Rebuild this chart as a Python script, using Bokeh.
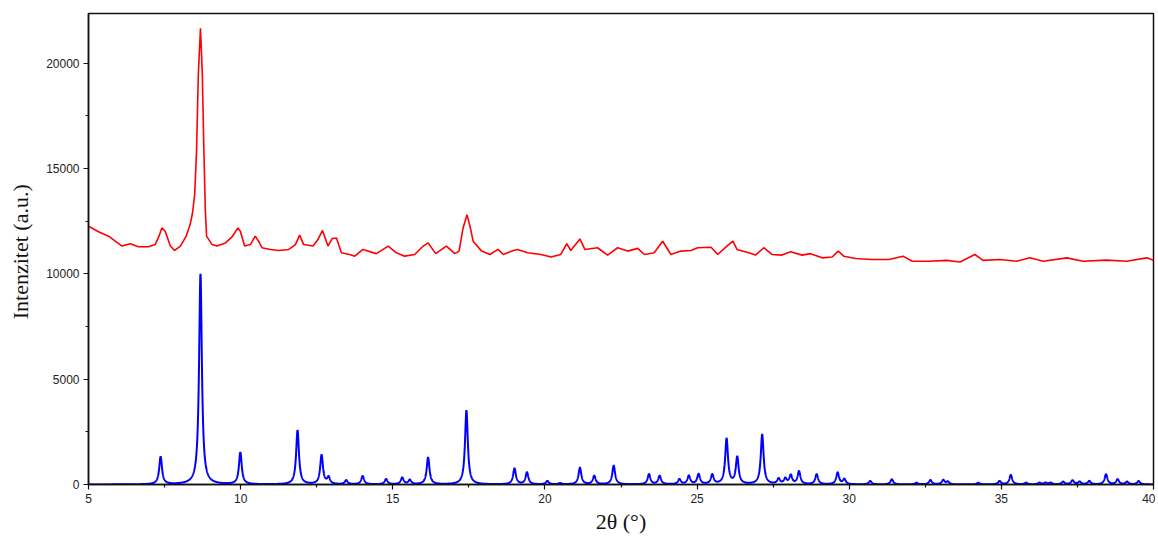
import numpy as np
from bokeh.plotting import figure
from bokeh.models import Range1d, FixedTicker
from bokeh.embed import file_html
from bokeh.resources import INLINE

# ---- calculated (simulated) pattern: peak positions (2theta, deg) and heights ----
blue_pos = [7.37, 8.68, 9.99, 11.87, 12.66, 12.89, 13.47, 14.01, 14.78, 15.31,
            15.56, 16.16, 17.42, 19.00, 19.41, 20.08, 20.50, 21.15, 21.62, 22.26,
            23.42, 23.77, 24.42, 24.73, 25.05, 25.50, 25.97, 26.32, 27.14, 27.68,
            27.90, 28.08, 28.35, 28.93, 29.62, 29.84, 30.69, 31.40, 32.21, 32.67,
            33.09, 33.24, 34.24, 34.94, 35.31, 35.81, 36.25, 36.45, 36.62, 37.03,
            37.34, 37.57, 37.89, 38.44, 38.82, 39.13, 39.51]
blue_height = [1310, 10000, 1510, 2570, 1390, 315, 190, 394, 250, 315,
               205, 1277, 3515, 756, 567, 158, 60, 790, 400, 890,
               480, 400, 240, 400, 480, 450, 2160, 1280, 2370, 256,
               256, 416, 608, 480, 560, 240, 160, 240, 80, 208,
               208, 128, 80, 160, 448, 80, 80, 80, 80, 128,
               192, 128, 160, 480, 240, 128, 160]
blue_hwhm = 0.055

red_x = [5.00, 5.11, 5.33, 5.66, 5.88, 6.10, 6.37, 6.64, 6.97, 7.19,
         7.32, 7.41, 7.52, 7.69, 7.83, 8.02, 8.21, 8.34, 8.42, 8.49,
         8.55, 8.61, 8.68, 8.74, 8.79, 8.84, 8.88, 9.06, 9.22, 9.50,
         9.71, 9.91, 9.99, 10.13, 10.32, 10.48, 10.59, 10.70, 10.98, 11.25,
         11.58, 11.80, 11.94, 12.07, 12.38, 12.54, 12.69, 12.87, 13.01, 13.15,
         13.31, 13.58, 13.75, 14.02, 14.46, 14.85, 15.12, 15.39, 15.72, 16.00,
         16.16, 16.41, 16.76, 17.04, 17.18, 17.31, 17.44, 17.55, 17.64, 17.92,
         18.19, 18.46, 18.63, 18.96, 19.10, 19.43, 19.87, 20.20, 20.52, 20.72,
         20.85, 21.15, 21.31, 21.73, 22.06, 22.39, 22.72, 23.05, 23.27, 23.59,
         23.87, 24.14, 24.47, 24.80, 25.02, 25.46, 25.68, 25.98, 26.18, 26.31,
         26.70, 26.92, 27.19, 27.46, 27.79, 28.07, 28.45, 28.73, 29.11, 29.44,
         29.64, 29.82, 30.21, 30.75, 31.30, 31.77, 32.07, 32.62, 33.20, 33.64,
         34.13, 34.40, 34.95, 35.50, 35.94, 36.38, 37.15, 37.69, 38.46, 39.12,
         39.78, 40.00]
red_y = [12260, 12180, 12000, 11790, 11550, 11320, 11430, 11290, 11290, 11390,
         11800, 12180, 12020, 11320, 11110, 11320, 11790, 12340, 12900, 13760,
         15800, 19500, 21660, 19500, 16000, 13000, 11790, 11390, 11320, 11470,
         11740, 12180, 12020, 11320, 11390, 11790, 11550, 11240, 11160, 11110,
         11160, 11390, 11840, 11390, 11320, 11630, 12060, 11320, 11680, 11700,
         11000, 10920, 10840, 11160, 10960, 11320, 11000, 10840, 10920, 11320,
         11470, 10960, 11320, 10960, 11080, 12180, 12810, 12180, 11550, 11080,
         10920, 11160, 10920, 11110, 11160, 11000, 10920, 10800, 10920, 11430,
         11110, 11660, 11160, 11240, 10890, 11240, 11080, 11210, 10920, 11000,
         11550, 10920, 11080, 11110, 11240, 11260, 10920, 11320, 11550, 11160,
         11000, 10890, 11240, 10920, 10890, 11050, 10890, 10960, 10760, 10800,
         11080, 10840, 10730, 10680, 10680, 10840, 10600, 10600, 10640, 10560,
         10920, 10640, 10680, 10600, 10760, 10600, 10760, 10600, 10650, 10600,
         10760, 10650]

x_ticks = [5, 10, 15, 20, 25, 30, 35, 40]
x_minor = [7.5, 12.5, 17.5, 22.5, 27.5, 32.5, 37.5]
y_ticks = [0, 5000, 10000, 15000, 20000]
y_minor = [2500, 7500, 12500, 17500]

# profile of the calculated pattern built from its peak list
grid = np.arange(5.0, 40.0001, 0.005)
blue_y = np.zeros_like(grid)
for c, h in zip(blue_pos, blue_height):
    blue_y += h / (1.0 + ((grid - c) / blue_hwhm) ** 2)

p = figure(width=1155, height=536, output_backend="svg", toolbar_location=None,
           x_range=Range1d(5, 40), y_range=Range1d(0, 22360),
           min_border_left=88, min_border_right=2, min_border_top=13,
           min_border_bottom=50)
p.background_fill_color = "white"
p.border_fill_color = "white"
p.grid.visible = False
p.outline_line_color = "#111111"
p.outline_line_width = 1.5

p.line(list(red_x), list(red_y), line_color="#FF0000", line_width=1.6)
p.line(grid, blue_y, line_color="#0000FF", line_width=2)

p.xaxis.ticker = FixedTicker(ticks=x_ticks, minor_ticks=x_minor)
p.yaxis.ticker = FixedTicker(ticks=y_ticks, minor_ticks=y_minor)

for ax in (p.xaxis[0], p.yaxis[0]):
    ax.axis_line_color = "#111111"
    ax.axis_line_width = 1.5
    ax.major_tick_line_color = "#111111"
    ax.minor_tick_line_color = "#111111"
    ax.major_tick_line_width = 1.2
    ax.minor_tick_line_width = 1.2
    ax.major_tick_in = 0
    ax.major_tick_out = 5
    ax.minor_tick_in = 0
    ax.minor_tick_out = 3
    ax.major_label_text_font = "Liberation Sans"
    ax.major_label_text_font_size = "12px"
    ax.major_label_text_color = "#222222"
    ax.axis_label_text_font = "Liberation Serif"
    ax.axis_label_text_font_size = "22px"
    ax.axis_label_text_font_style = "normal"
    ax.axis_label_text_color = "#111111"

p.xaxis.axis_label = "2θ (°)"
p.xaxis.major_label_standoff = 4
p.xaxis.axis_label_standoff = 3
p.yaxis.axis_label = "Intenzitet  (a.u.)"
p.yaxis.major_label_standoff = 4
p.yaxis.axis_label_standoff = 10

open("out.html", "w").write(file_html(p, INLINE))
